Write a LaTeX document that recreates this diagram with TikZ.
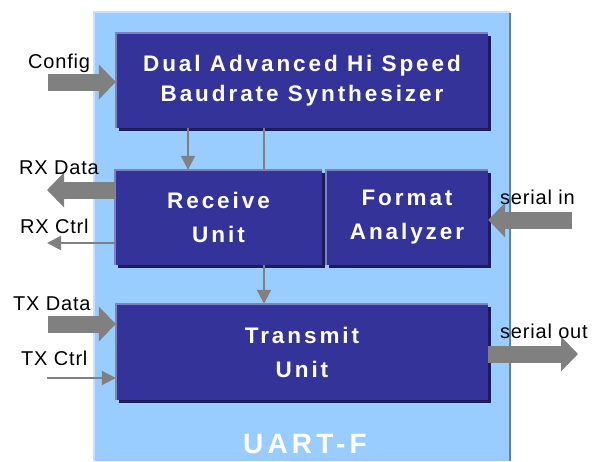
\documentclass[tikz,border=0pt]{standalone}
\usepackage{fontspec}
\setmainfont{Liberation Sans}
\newfontfamily\unitfont[LetterSpace=13]{Liberation Sans}
\newfontfamily\namefont[LetterSpace=15]{Liberation Sans}
\newfontfamily\tagfont[LetterSpace=4]{Liberation Sans}
\usetikzlibrary{arrows.meta,shadows}
\definecolor{uartblue}{HTML}{99CCFF}
\definecolor{uartedge}{HTML}{C4E2FF}
\definecolor{uartshade}{HTML}{5F7FA3}
\definecolor{boxblue}{HTML}{333399}
\definecolor{boxedge}{HTML}{8080C0}
\definecolor{boxshade}{HTML}{1C1C5C}
\definecolor{arrowgray}{HTML}{808080}
\tikzset{unitbox/.style={fill=boxblue, text=white, inner sep=0pt, align=center,
    font=\unitfont\bfseries\fontsize{22.5}{34}\selectfont,
    drop shadow={shadow xshift=3pt, shadow yshift=-3pt, fill=boxshade, opacity=1}},
  bigarrow/.style={draw=arrowgray, line width=17pt, -{Triangle[length=17pt, width=34pt]}},
  thinarrow/.style={draw=arrowgray, line width=2pt, -{Triangle[length=14pt, width=14pt]}},
  tag/.style={anchor=base west, inner sep=0pt, font=\tagfont\fontsize{20}{24}\selectfont}}

\begin{document}
\begin{tikzpicture}[x=1pt, y=-1pt]
      \useasboundingbox (0,0) rectangle (594,461);
      % outer block
      \fill [uartblue] (94,12) rectangle (510,461);
      \draw [uartedge, line width=1.5pt] (94,461) -- (94,12) -- (510,12);
      \draw [uartshade, line width=2pt] (510,13) -- (510,461);
      \node [anchor=base, inner sep=0pt, text=white, font=\namefont\bfseries\fontsize{28}{34}\selectfont] (uart) at (305,453) {UART-F};
      % units
      \node [unitbox, minimum width=372pt, minimum height=95pt, font=\unitfont\bfseries\fontsize{22.5}{30}\selectfont] (synth) at (302,80.5) {Dual Advanced Hi Speed\\Baudrate Synthesizer};
      \node [unitbox, minimum width=207pt, minimum height=95pt] (rx) at (218.5,217.5) {Receive\\Unit};
      \node [unitbox, minimum width=162pt, minimum height=95pt] (fmt) at (407,217.5) {Format\\Analyzer};
      \node [unitbox, minimum width=372pt, minimum height=96pt] (tx) at (302,352) {Transmit\\Unit};
      \foreach \b in {synth,rx,fmt,tx} {
        \draw [boxedge, line width=2pt] (\b.south west) -- (\b.north west) -- (\b.north east);
      }
      % free ends
      \coordinate (cfg) at (48,82);
      \coordinate (rxd) at (47,190);
      \coordinate (rxc) at (47,243);
      \coordinate (txd) at (48,324);
      \coordinate (txc) at (47,378);
      \coordinate (sin) at (572,220);
      \coordinate (sout) at (578,354);
      \coordinate (clka) at (188,0);
      \coordinate (clkb) at (264,0);
      % connectors
      \draw [bigarrow] (cfg) -- (cfg -| synth.west);
      \draw [bigarrow] (rxd -| rx.west) -- (rxd);
      \draw [thinarrow] (rxc -| rx.west) -- (rxc);
      \draw [bigarrow] (txd) -- (txd -| tx.west);
      \draw [thinarrow] (txc) -- (txc -| tx.west);
      \draw [bigarrow] (sin) -- (sin -| fmt.east);
      \draw [bigarrow] (sout -| tx.east) -- (sout);
      \draw [thinarrow] (clka |- synth.south) -- (clka |- rx.north);
      \draw [arrowgray, line width=2pt] (clkb |- synth.south) -- (clkb |- rx.north);
      \draw [thinarrow] (clkb |- rx.south) -- (clkb |- tx.north);
      % labels
      \node [tag] (cfgtag) at (28,68) {Config};
      \node [tag] (rxdtag) at (19,174) {RX Data};
      \node [tag] (rxctag) at (20,233) {RX Ctrl};
      \node [tag] (txdtag) at (13,310) {TX Data};
      \node [tag] (txctag) at (21,365) {TX Ctrl};
      \node [tag] (sintag) at (500,204) {serial in};
      \node [tag] (souttag) at (500,338) {serial out};
    \end{tikzpicture}
\end{document}
